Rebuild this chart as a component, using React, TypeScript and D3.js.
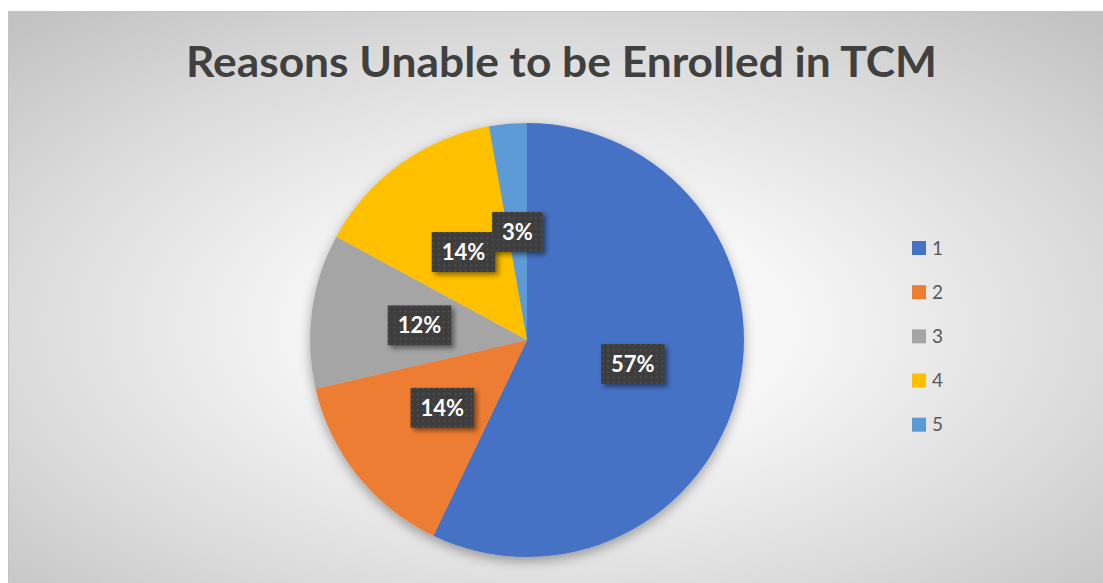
import React, { useEffect, useRef } from "react";
import * as d3 from "d3";

const categories = ["1", "2", "3", "4", "5"];
const values = [57.1, 14.3, 11.5, 14.3, 2.8];
const colors = ["#4472C4", "#ED7D31", "#A5A5A5", "#FFC000", "#5B9BD5"];
const title = "Reasons Unable to be Enrolled in TCM";

const W = 1103;
const H = 583;

export default function App() {
  const ref = useRef<SVGSVGElement>(null);

  useEffect(() => {
    const svg = d3.select(ref.current);
    svg.selectAll("*").remove();
    const defs = svg.append("defs");

    const grad = defs
      .append("radialGradient")
      .attr("id", "bg")
      .attr("cx", "0.5")
      .attr("cy", "0.55")
      .attr("r", "0.72");
    grad.append("stop").attr("offset", "0").attr("stop-color", "#ffffff");
    grad.append("stop").attr("offset", "0.3").attr("stop-color", "#f6f6f6");
    grad.append("stop").attr("offset", "0.7").attr("stop-color", "#dadada");
    grad.append("stop").attr("offset", "1").attr("stop-color", "#c2c2c2");

    const pieShadow = defs
      .append("filter")
      .attr("id", "pieShadow")
      .attr("x", "-20%")
      .attr("y", "-20%")
      .attr("width", "140%")
      .attr("height", "140%");
    pieShadow
      .append("feDropShadow")
      .attr("dx", 0)
      .attr("dy", 4)
      .attr("stdDeviation", 6)
      .attr("flood-color", "#000")
      .attr("flood-opacity", 0.35);

    const boxShadow = defs
      .append("filter")
      .attr("id", "boxShadow")
      .attr("x", "-30%")
      .attr("y", "-30%")
      .attr("width", "160%")
      .attr("height", "160%");
    boxShadow
      .append("feDropShadow")
      .attr("dx", 3)
      .attr("dy", 3)
      .attr("stdDeviation", 2.5)
      .attr("flood-color", "#000")
      .attr("flood-opacity", 0.45);

    const pat = defs
      .append("pattern")
      .attr("id", "dots")
      .attr("patternUnits", "userSpaceOnUse")
      .attr("width", 5.4)
      .attr("height", 5.4);
    pat.append("rect").attr("width", 5.4).attr("height", 5.4).attr("fill", "#3d3d3d");
    pat
      .append("rect")
      .attr("x", 1.5)
      .attr("y", 1.5)
      .attr("width", 1.6)
      .attr("height", 1.6)
      .attr("fill", "#565656");

    // background
    svg
      .append("rect")
      .attr("x", 8.5)
      .attr("y", 11.5)
      .attr("width", W - 8)
      .attr("height", H - 11)
      .attr("fill", "url(#bg)")
      .attr("stroke", "#c4c4c4")
      .attr("stroke-width", 1);

    // title
    svg
      .append("text")
      .attr("x", 561.5)
      .attr("y", 77)
      .attr("text-anchor", "middle")
      .attr("font-family", "Lato, 'Open Sans', sans-serif")
      .attr("font-weight", 700)
      .attr("font-size", 42)
      .attr("fill", "#404040")
      .attr("textLength", 751)
      .attr("lengthAdjust", "spacingAndGlyphs")
      .text(title);

    const cx = 527;
    const cy = 340;
    const r = 217;

    const pie = d3
      .pie<number>()
      .sort(null)
      .value((d) => d);
    const arcs = pie(values);
    const arc = d3.arc<d3.PieArcDatum<number>>().innerRadius(0).outerRadius(r);
    const labelArc = d3
      .arc<d3.PieArcDatum<number>>()
      .innerRadius(r / 2)
      .outerRadius(r / 2);

    const g = svg.append("g").attr("transform", `translate(${cx},${cy})`);
    g.append("g")
      .attr("filter", "url(#pieShadow)")
      .selectAll("path")
      .data(arcs)
      .join("path")
      .attr("d", (d) => arc(d) as string)
      .attr("fill", (_d, i) => colors[i]);

    const total = d3.sum(values);
    arcs.forEach((d) => {
      const [lx, ly] = labelArc.centroid(d);
      const lg = g.append("g").attr("transform", `translate(${lx},${ly})`);
      const rect = lg.append("rect").attr("fill", "url(#dots)").attr("filter", "url(#boxShadow)");
      const t = lg
        .append("text")
        .attr("text-anchor", "middle")
        .attr("y", 8)
        .attr("font-family", "Lato, 'Open Sans', sans-serif")
        .attr("font-weight", 700)
        .attr("font-size", 22)
        .attr("fill", "#ffffff")
        .text(`${Math.round((d.data / total) * 100)}%`);
      const tw = (t.node() as SVGTextElement).getComputedTextLength();
      const bw = tw + 20;
      const bh = 40;
      rect.attr("x", -bw / 2).attr("y", -bh / 2).attr("width", bw).attr("height", bh);
    });

    // legend
    const legendY = d3
      .scalePoint<string>()
      .domain(categories)
      .range([248, 424.7]);
    const lg = svg.append("g");
    categories.forEach((c, i) => {
      const y = legendY(c) as number;
      lg.append("rect")
        .attr("x", 912)
        .attr("y", y - 7)
        .attr("width", 14)
        .attr("height", 14)
        .attr("fill", colors[i]);
      lg.append("text")
        .attr("x", 932)
        .attr("y", y + 6.5)
        .attr("font-family", "Lato, 'Open Sans', sans-serif")
        .attr("font-size", 19)
        .attr("fill", "#595959")
        .text(c);
    });
  }, []);

  return (
    <svg
      ref={ref}
      width={W}
      height={H}
      style={{ position: "absolute", left: 0, top: 0, background: "#ffffff" }}
    />
  );
}
